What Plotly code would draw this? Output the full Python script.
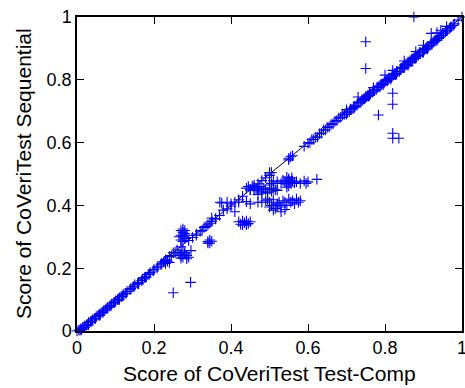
import plotly.graph_objects as go

# Points close to the diagonal
diag_x = [0.000, 0.005, 0.010, 0.015, 0.020, 0.025, 0.030, 0.035, 0.040, 0.045,
          0.050, 0.055, 0.060, 0.065, 0.070, 0.075, 0.080, 0.085, 0.090, 0.095,
          0.100, 0.105, 0.110, 0.115, 0.120, 0.125, 0.130, 0.140, 0.145, 0.150,
          0.160, 0.170, 0.175, 0.185, 0.190, 0.200, 0.210, 0.220, 0.230, 0.240,
          0.250, 0.260, 0.270, 0.290, 0.300, 0.310, 0.320, 0.330, 0.340, 0.350,
          0.360, 0.370, 0.390, 0.400, 0.420, 0.430, 0.450, 0.460, 0.470, 0.480,
          0.490, 0.500, 0.500, 0.505, 0.500, 0.550, 0.555, 0.560, 0.550, 0.590,
          0.600, 0.610, 0.620, 0.630, 0.640, 0.650, 0.660, 0.670, 0.680, 0.690,
          0.700, 0.710, 0.720, 0.730, 0.740, 0.745, 0.750, 0.755, 0.760, 0.770,
          0.780, 0.785, 0.790, 0.800, 0.805, 0.810, 0.820, 0.825, 0.830, 0.840,
          0.845, 0.850, 0.855, 0.860, 0.865, 0.870, 0.875, 0.880, 0.885, 0.890,
          0.900, 0.905, 0.910, 0.920, 0.925, 0.930, 0.940, 0.950, 0.960, 0.970,
          0.980, 0.990, 1.000, 0.730, 0.800, 0.920, 0.700, 0.770, 0.350, 0.380,
          0.850, 0.880, 0.900, 0.860, 0.830, 0.815, 0.795, 0.870, 0.910, 0.935,
          0.020, 0.030, 0.012, 0.060, 0.110, 0.160, 0.180, 0.700, 0.720, 0.760]
diag_y = [0.000, 0.003, 0.008, 0.012, 0.017, 0.020, 0.027, 0.030, 0.036, 0.040,
          0.046, 0.050, 0.055, 0.060, 0.066, 0.070, 0.076, 0.080, 0.086, 0.090,
          0.096, 0.100, 0.106, 0.110, 0.117, 0.120, 0.126, 0.135, 0.140, 0.147,
          0.155, 0.166, 0.170, 0.180, 0.186, 0.196, 0.206, 0.216, 0.227, 0.237,
          0.249, 0.258, 0.268, 0.288, 0.298, 0.309, 0.318, 0.330, 0.338, 0.349,
          0.358, 0.368, 0.389, 0.398, 0.418, 0.429, 0.449, 0.458, 0.469, 0.479,
          0.488, 0.500, 0.495, 0.505, 0.505, 0.550, 0.555, 0.558, 0.545, 0.588,
          0.598, 0.610, 0.617, 0.628, 0.640, 0.648, 0.658, 0.668, 0.678, 0.688,
          0.697, 0.707, 0.716, 0.728, 0.737, 0.740, 0.747, 0.750, 0.757, 0.766,
          0.777, 0.780, 0.787, 0.797, 0.800, 0.806, 0.817, 0.820, 0.827, 0.836,
          0.840, 0.847, 0.850, 0.857, 0.860, 0.867, 0.870, 0.877, 0.880, 0.887,
          0.897, 0.900, 0.907, 0.917, 0.920, 0.927, 0.937, 0.948, 0.958, 0.968,
          0.978, 0.990, 1.000, 0.745, 0.815, 0.948, 0.705, 0.775, 0.360, 0.385,
          0.838, 0.868, 0.888, 0.846, 0.818, 0.802, 0.784, 0.858, 0.898, 0.925,
          0.012, 0.020, 0.004, 0.050, 0.100, 0.150, 0.172, 0.690, 0.712, 0.750]

# Extra points forming the dense band just under the diagonal
band_x = [0.702, 0.707, 0.712, 0.717, 0.722, 0.727, 0.732, 0.737, 0.742, 0.747,
          0.752, 0.757, 0.762, 0.767, 0.772, 0.777, 0.782, 0.787, 0.792, 0.797,
          0.802, 0.807, 0.812, 0.817, 0.822, 0.827, 0.832, 0.837, 0.842, 0.847,
          0.852, 0.857, 0.862, 0.867, 0.872, 0.877, 0.882, 0.887, 0.892, 0.897,
          0.902, 0.907, 0.912, 0.917, 0.922, 0.927, 0.932, 0.937, 0.942, 0.947,
          0.952, 0.957, 0.962, 0.967, 0.972, 0.977,
          0.880, 0.900, 0.935, 0.945, 0.960, 0.820, 0.850,
          0.008, 0.018, 0.028, 0.038, 0.048, 0.058, 0.068, 0.078, 0.088, 0.098,
          0.108, 0.118, 0.128, 0.138, 0.148, 0.158, 0.168, 0.178, 0.188, 0.198,
          0.208, 0.218, 0.228,
          0.605, 0.615, 0.625, 0.635, 0.645, 0.655, 0.665, 0.675, 0.685, 0.695,
          0.245, 0.255, 0.310, 0.325, 0.335, 0.345, 0.360]
band_y = [0.695, 0.698, 0.706, 0.708, 0.715, 0.719, 0.726, 0.728, 0.735, 0.739,
          0.746, 0.748, 0.755, 0.760, 0.765, 0.768, 0.776, 0.778, 0.786, 0.789,
          0.795, 0.797, 0.806, 0.807, 0.815, 0.818, 0.826, 0.826, 0.836, 0.838,
          0.845, 0.848, 0.855, 0.858, 0.866, 0.868, 0.875, 0.878, 0.886, 0.888,
          0.895, 0.899, 0.905, 0.909, 0.915, 0.920, 0.926, 0.931, 0.936, 0.941,
          0.947, 0.952, 0.957, 0.963, 0.968, 0.973,
          0.890, 0.910, 0.950, 0.958, 0.970, 0.830, 0.860,
          0.002, 0.011, 0.020, 0.031, 0.040, 0.051, 0.060, 0.071, 0.080, 0.091,
          0.100, 0.111, 0.120, 0.131, 0.141, 0.151, 0.161, 0.171, 0.181, 0.191,
          0.201, 0.211, 0.221,
          0.600, 0.610, 0.618, 0.630, 0.640, 0.650, 0.660, 0.670, 0.681, 0.690,
          0.240, 0.250, 0.305, 0.320, 0.333, 0.343, 0.357]

# Points away from the diagonal
off_x = [0.505, 0.510, 0.520, 0.530, 0.535, 0.540, 0.545, 0.550, 0.553, 0.556,
         0.560, 0.565, 0.570, 0.580, 0.590, 0.595, 0.600, 0.623, 0.545, 0.550,
         0.558, 0.550, 0.545,
         0.440, 0.445, 0.450, 0.455, 0.460, 0.465, 0.470, 0.475, 0.480, 0.485,
         0.490, 0.495, 0.500, 0.505, 0.510, 0.515, 0.520, 0.470, 0.480, 0.460,
         0.500,
         0.371, 0.376, 0.390, 0.400, 0.410, 0.420, 0.440, 0.450, 0.470, 0.480,
         0.490, 0.500, 0.505, 0.510, 0.515, 0.520, 0.525, 0.530, 0.535, 0.540,
         0.545, 0.550, 0.555, 0.560, 0.565, 0.570, 0.575, 0.580, 0.540, 0.510,
         0.520, 0.530, 0.500, 0.495,
         0.410,
         0.420, 0.425, 0.430, 0.435, 0.440, 0.445, 0.450, 0.430, 0.440,
         0.270, 0.275, 0.280, 0.270, 0.275, 0.280, 0.270, 0.275, 0.280, 0.285,
         0.265, 0.275,
         0.265, 0.270, 0.275, 0.280, 0.285, 0.290, 0.270, 0.280, 0.275, 0.285,
         0.296,
         0.340, 0.345, 0.350, 0.345, 0.340,
         0.225, 0.230, 0.235, 0.240, 0.230,
         0.250, 0.295,
         0.750, 0.750, 0.875, 0.820, 0.820, 0.783, 0.820, 0.820, 0.836]
off_y = [0.470, 0.478, 0.475, 0.470, 0.480, 0.475, 0.468, 0.480, 0.475, 0.470,
         0.478, 0.472, 0.475, 0.470, 0.478, 0.470, 0.475, 0.483, 0.490, 0.485,
         0.488, 0.462, 0.458,
         0.455, 0.460, 0.450, 0.462, 0.448, 0.455, 0.450, 0.460, 0.445, 0.455,
         0.450, 0.440, 0.452, 0.445, 0.455, 0.450, 0.448, 0.435, 0.440, 0.465,
         0.465,
         0.410, 0.408, 0.410, 0.405, 0.410, 0.410, 0.412, 0.405, 0.410, 0.410,
         0.415, 0.410, 0.400, 0.418, 0.390, 0.405, 0.410, 0.395, 0.415, 0.410,
         0.400, 0.420, 0.410, 0.415, 0.405, 0.420, 0.410, 0.415, 0.387, 0.385,
         0.400, 0.380, 0.395, 0.420,
         0.380,
         0.348, 0.340, 0.350, 0.345, 0.350, 0.342, 0.348, 0.338, 0.338,
         0.320, 0.315, 0.310, 0.305, 0.300, 0.295, 0.290, 0.285, 0.320, 0.305,
         0.300, 0.325,
         0.245, 0.240, 0.235, 0.245, 0.240, 0.235, 0.232, 0.250, 0.255, 0.230,
         0.256,
         0.285, 0.280, 0.286, 0.290, 0.280,
         0.220, 0.215, 0.222, 0.218, 0.225,
         0.122, 0.155,
         0.921, 0.836, 1.000, 0.757, 0.722, 0.688, 0.630, 0.614, 0.614]

line_x = [0, 1]
line_y = [0, 1]

x_title = "Score of CoVeriTest Test-Comp"
y_title = "Score of CoVeriTest Sequential"

FONT = "Liberation Sans, Arial, sans-serif"

fig = go.Figure()
fig.add_trace(go.Scatter(x=line_x, y=line_y, mode="lines",
                         line=dict(color="black", width=1), hoverinfo="skip",
                         showlegend=False))
fig.add_trace(go.Scatter(x=diag_x + band_x + off_x, y=diag_y + band_y + off_y,
                         mode="markers",
                         marker=dict(symbol="cross-thin", size=7.5,
                                     line=dict(color="#0000ff", width=1.1)),
                         cliponaxis=False, showlegend=False))

axis_common = dict(range=[0, 1], dtick=0.2, tick0=0, showgrid=False, zeroline=False,
                   showline=True, linecolor="black", linewidth=1.5, mirror="ticks",
                   ticks="inside", ticklen=7, tickwidth=1, tickcolor="black",
                   automargin=False, ticklabeloverflow="allow",
                   tickfont=dict(family=FONT, size=18, color="black"))

fig.update_layout(
    width=465, height=388,
    margin=dict(l=77, r=3, t=17, b=57, autoexpand=False),
    paper_bgcolor="white", plot_bgcolor="white",
    xaxis=dict(**axis_common),
    yaxis=dict(**axis_common),
    annotations=[
        dict(text=x_title, xref="paper", yref="paper", x=0.5, y=0, yshift=-42,
             xanchor="center", yanchor="middle", showarrow=False,
             font=dict(family=FONT, size=21, color="black")),
        dict(text=y_title, xref="paper", yref="paper", x=0, y=0.5, xshift=-54,
             xanchor="center", yanchor="middle", textangle=-90, showarrow=False,
             font=dict(family=FONT, size=21, color="black")),
    ],
)

fig.write_html("out.html", config={"displayModeBar": False},
               post_script="document.body.style.margin='0';document.body.style.overflow='hidden';")
